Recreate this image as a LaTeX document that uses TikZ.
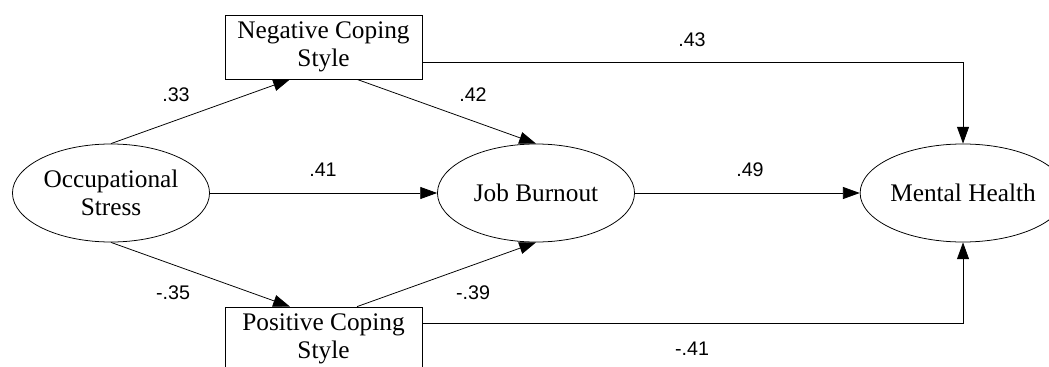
\documentclass[tikz,border=0pt]{standalone}
\usepackage{fontspec}
\setmainfont{Liberation Serif}
\newfontfamily\coeffont{Liberation Sans}
\usetikzlibrary{arrows.meta,shapes.geometric}

\begin{document}
\begin{tikzpicture}[
    x = 0.025cm,
    y = -0.025cm,
    line width = 0.55pt,
    >={Triangle[length=0.42cm, width=0.3cm]},
    latent/.style = {
      draw,
      ellipse,
      inner sep = 0pt,
      minimum width = 4.925cm,
      minimum height = 2.45cm,
      align = center,
      font = \fontsize{18}{20}\selectfont
    },
    coping/.style = {
      draw,
      rectangle,
      inner sep = 0pt,
      minimum width = 4.925cm,
      minimum height = 1.6cm,
      align = center,
      font = \fontsize{18}{20}\selectfont
    },
    coef/.style = {
      inner sep = 0pt,
      font = \coeffont\fontsize{14}{16}\selectfont
    }
  ]
  \useasboundingbox (0,0) rectangle (1049,367);

  \node[latent] (os) at (111,193) {Occupational\\Stress};
  \node[latent] (jb) at (536,193) {Job Burnout};
  \node[latent] (mh) at (963,193) {Mental Health};

  \node[coping] (ncs) at (323.5,47) {Negative Coping\\Style};
  \node[coping] (pcs) at (323.5,339) {Positive Coping\\Style};

  \draw[->] (os.north) -- (ncs.224);
  \draw[->] (os.south) -- (pcs.136);
  \draw[->] (os.east) -- (jb.west);
  \draw[->] (ncs.316) -- (jb.north);
  \draw[->] (pcs.44) -- (jb.south);
  \draw[->] (jb.east) -- (mh.west);
  \draw[->] (ncs.-9) -| (mh.north);
  \draw[->] (pcs.9) -| (mh.south);

  \node[coef] (c33) at (176,95) {.33};
  \node[coef] (c35) at (173,293) {-.35};
  \node[coef] (c41a) at (323,170) {.41};
  \node[coef] (c42) at (473,95) {.42};
  \node[coef] (c39) at (473,293) {-.39};
  \node[coef] (c49) at (750,170) {.49};
  \node[coef] (c43) at (692,40) {.43};
  \node[coef] (c41b) at (692,349) {-.41};

\end{tikzpicture}
\end{document}
